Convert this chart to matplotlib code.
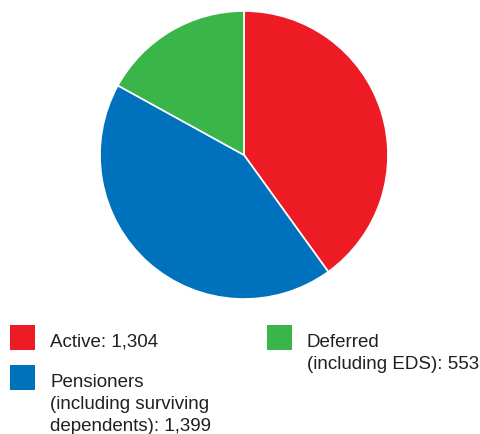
import matplotlib.pyplot as plt
from matplotlib.patches import Rectangle

labels = ["Active: 1,304", "Pensioners\n(including surviving\ndependents): 1,399",
          "Deferred\n(including EDS): 553"]
values = [1304, 1399, 553]
colors = ["#ED1C24", "#0071BC", "#3AB54A"]

W, H = 481, 435
fig = plt.figure(figsize=(W / 100, H / 100), dpi=100)
plt.rcParams["font.family"] = ["Liberation Sans", "DejaVu Sans"]

# pie: center (244,156) px, radius 144 px
cx, cy, r = 244, 156, 144
ax = fig.add_axes([(cx - r) / W, (H - cy - r) / H, 2 * r / W, 2 * r / H])
ax.pie(values, colors=colors, startangle=90, counterclock=False,
       wedgeprops=dict(edgecolor="white", linewidth=1.2))
ax.set_xlim(-1, 1)
ax.set_ylim(-1, 1)
ax.set_aspect("equal")
ax.axis("off")

# legend drawn by hand: square top-left px + text baseline px
legend_pos = [(10, 326, 50, 347), (10, 366, 50, 387), (267, 326, 307, 347)]
for lab, col, (sx, sy, tx, ty) in zip(labels, colors, legend_pos):
    fig.patches.append(Rectangle((sx / W, 1 - (sy + 25) / H), 25 / W, 25 / H,
                                 transform=fig.transFigure, facecolor=col,
                                 edgecolor="none"))
    for k, line in enumerate(lab.split("\n")):
        fig.text(tx / W, 1 - (ty + 22 * k) / H, line, fontsize=13.5,
                 color="#231F20", va="baseline", ha="left")

fig.savefig("out.png", dpi=100)
